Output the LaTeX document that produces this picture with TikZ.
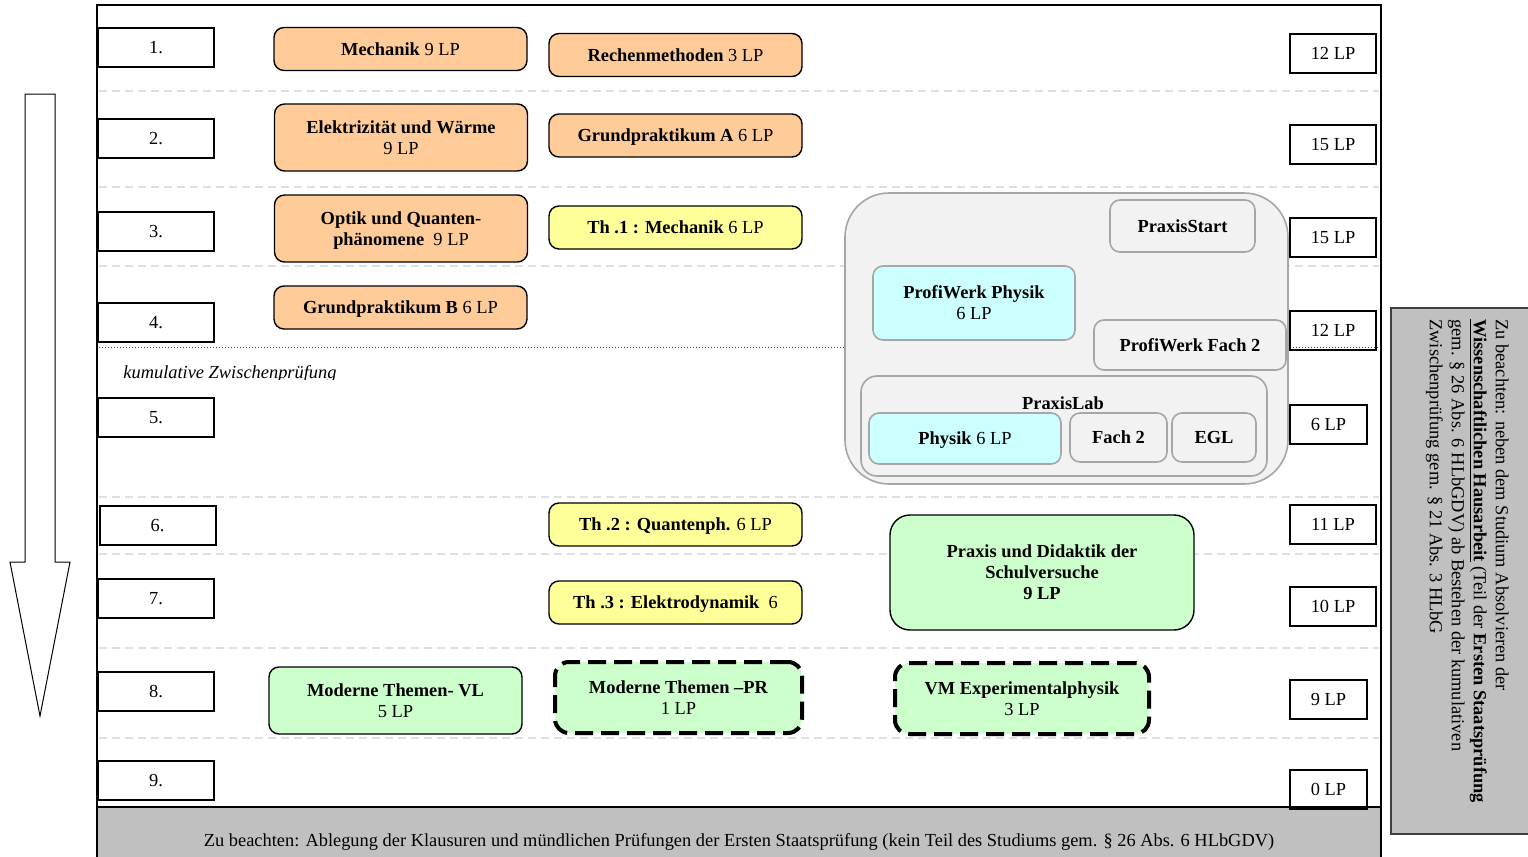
\documentclass[tikz,border=0pt]{standalone}
\usepackage{fontspec}
\setmainfont{Liberation Serif}
\definecolor{orng}{HTML}{FFCC99}
\definecolor{yell}{HTML}{FFFF99}
\definecolor{grn}{HTML}{CCFFCC}
\definecolor{cyn}{HTML}{CCFFFF}
\definecolor{pfill}{HTML}{F2F2F2}
\definecolor{pgray}{HTML}{A6A6A6}
\definecolor{band}{HTML}{C0C0C0}
\begin{document}
\begin{tikzpicture}[x=0.5pt,y=-0.5pt,
  every node/.style={font=\fontsize{9.2}{10.5}\selectfont, inner sep=0pt, align=center, text depth=0pt},
  lbl/.style={draw, line width=1pt, fill=white, minimum width=58pt, minimum height=19.5pt},
  lp/.style={draw, line width=1pt, minimum width=43pt, minimum height=19.5pt},
  lps/.style={lp, minimum width=38.5pt},
  mod/.style={draw, line width=0.7pt, rounded corners=5pt, minimum width=126.5pt, minimum height=21.5pt},
  ora/.style={mod, fill=orng},
  yel/.style={mod, fill=yell},
  gre/.style={mod, fill=grn},
  dsh/.style={gre, line width=2pt, dash pattern=on 9pt off 4pt, rounded corners=7pt},
  rowline/.style={gray!25, line width=1pt, dash pattern=on 4pt off 2.5pt},
  pbox/.style={draw=pgray, line width=0.8pt, fill=pfill, rounded corners=5pt},
  pcyan/.style={pbox, fill=cyn},
]
\useasboundingbox (0,0) rectangle (1528,857);

% row separators
\foreach \yy in {91,187,266,497,554,648,738}
  \draw[rowline] (99,\yy) -- (1379,\yy);
\draw[line width=0.45pt, black!75, dash pattern=on 0.7pt off 0.8pt] (99,347) -- (1379,347);

% main frame
\draw[line width=1pt] (97,865) -- (97,5) -- (1381,5) -- (1381,865);
\draw[line width=1pt, fill=band] (97,807) rectangle (1381,870);
\node (foot) at (739,840) {Zu beachten: Ablegung der Klausuren und mündlichen Prüfungen der Ersten Staatsprüfung (kein Teil des Studiums gem. § 26 Abs. 6 HLbGDV)};

% arrow
\draw[line width=0.5pt, fill=white] (25,94) -- (55,94) -- (55,562) -- (70,562) -- (40,716) -- (10,562) -- (25,562) -- cycle;

% semester labels
\node[lbl] (s1) at (156,47.5) {1.};
\node[lbl] (s2) at (156,138.5) {2.};
\node[lbl] (s3) at (156,231.5) {3.};
\node[lbl] (s4) at (156,322.5) {4.};
\node[lbl] (s5) at (156,417.5) {5.};
\node[lbl] (s6) at (157.5,525) {6.};
\node[lbl] (s7) at (156,598.5) {7.};
\node[lbl] (s8) at (156,691.5) {8.};
\node[lbl] (s9) at (156,780.5) {9.};

% kumulative Zwischenpruefung
\begin{scope}
\clip (100,350) rectangle (500,379);
\node[anchor=base west, font=\fontsize{9.2}{10.5}\selectfont\itshape] (kz) at (123,378) {kumulative Zwischenprüfung};
\end{scope}

% LP boxes
\node[lp] (l1) at (1333,53.5) {12 LP};
\node[lp] (l2) at (1333,144.5) {15 LP};
\node[lp] (l3) at (1333,237.5) {15 LP};
\node[lp] (l4) at (1333,330) {12 LP};
\node[lps] (l5) at (1328.5,424) {6 LP};
\node[lp] (l6) at (1333,524.5) {11 LP};
\node[lp] (l7) at (1333,606) {10 LP};
\node[lps] (l8) at (1328.5,699) {9 LP};
\node[lps] (l9) at (1328.5,789) {0 LP};

% modules
\node[ora] (mech) at (400.5,49) {\textbf{Mechanik} 9 LP};
\node[ora] (rech) at (675.5,55) {\textbf{Rechenmethoden} 3 LP};
\node[ora, minimum height=33.5pt] (elek) at (401,137.5) {\textbf{Elektrizität und Wärme}\\9 LP};
\node[ora] (gpa) at (675.5,135.5) {\textbf{Grundpraktikum A} 6 LP};
\node[ora, minimum height=33.5pt] (opt) at (401,228.5) {\textbf{Optik und Quanten-}\\\textbf{phänomene}\ \ 9 LP};
\node[ora] (gpb) at (400.5,307.5) {\textbf{Grundpraktikum B} 6 LP};
\node[yel] (th1) at (675.5,227.5) {\textbf{Th .1 : Mechanik} 6 LP};
\node[yel] (th2) at (675.5,524.5) {\textbf{Th .2 : Quantenph.} 6 LP};
\node[yel] (th3) at (675.5,602.5) {\textbf{Th .3 : Elektrodynamik}\ \ 6};
\node[gre, minimum width=152pt, minimum height=57.5pt, rounded corners=10pt, font=\fontsize{9.2}{10.5}\selectfont\bfseries] (pds) at (1042,572.5) {Praxis und Didaktik der\\Schulversuche\\9 LP};
\node[gre, minimum height=33.5pt] (mvl) at (395.5,700.5) {\textbf{Moderne Themen- VL}\\5 LP};
\node[dsh, minimum width=123.5pt, minimum height=35.5pt] (mpr) at (678.5,697.5) {\textbf{Moderne Themen –PR}\\1 LP};
\node[dsh, minimum width=127pt, minimum height=35.5pt] (vm) at (1022,698.5) {\textbf{VM Experimentalphysik}\\3 LP};

% Praxis container
\node[pbox, rounded corners=22pt, minimum width=221.5pt, minimum height=145.5pt] (prx) at (1066.5,338.5) {};
\node[pbox, minimum width=72.5pt, minimum height=26pt, font=\fontsize{9.2}{10.5}\selectfont\bfseries] (pstart) at (1182.5,226) {PraxisStart};
\node[pcyan, minimum width=101pt, minimum height=37pt] (pwp) at (974,303) {\textbf{ProfiWerk Physik}\\6 LP};
\node[pbox, minimum width=96pt, minimum height=25pt, font=\fontsize{9.2}{10.5}\selectfont\bfseries] (pwf) at (1190,345) {ProfiWerk Fach 2};
\node[pbox, rounded corners=8pt, minimum width=203pt, minimum height=50pt] (plab) at (1064,426) {};
\node[font=\fontsize{9.2}{10.5}\selectfont\bfseries] (plabt) at (1063,403) {PraxisLab};
\node[pcyan, minimum width=96pt, minimum height=25.5pt] (pphy) at (965,438.5) {\textbf{Physik} 6 LP};
\node[pbox, minimum width=48.5pt, minimum height=24.5pt, font=\fontsize{9.2}{10.5}\selectfont\bfseries] (pf2) at (1118.5,437.5) {Fach 2};
\node[pbox, minimum width=42pt, minimum height=24.5pt, font=\fontsize{9.2}{10.5}\selectfont\bfseries] (pegl) at (1214,437.5) {EGL};

% right note
\draw[line width=0.8pt, draw=black!75, fill=band] (1391,308) rectangle (1545,834);
\node[rotate=-90, anchor=north west, align=left, font=\fontsize{9.2}{11}\selectfont] (note) at (1509,319) {Zu beachten: neben dem Studium Absolvieren der\\\underline{\textbf{Wissenschaftlichen Hausarbeit}} (Teil der \textbf{Ersten Staatsprüfung}\\gem. § 26 Abs. 6 HLbGDV) ab Bestehen der kumulativen\\Zwischenprüfung gem. § 21 Abs. 3 HLbG};
\end{tikzpicture}
\end{document}
